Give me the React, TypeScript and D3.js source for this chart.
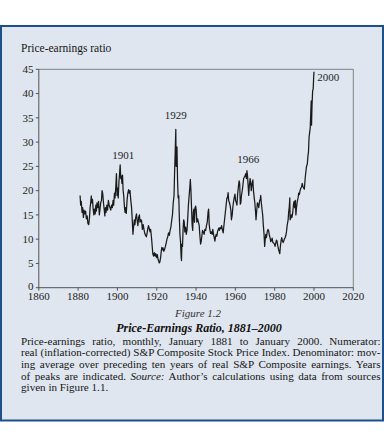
import React, { useLayoutEffect, useRef } from "react";
import * as d3 from "d3";

// ---- data ----
const years: number[] = [
  1881.0, 1881.3, 1881.6, 1882.0, 1882.3, 1882.7, 1883.0, 1883.4, 1883.8, 1884.2, 1884.6, 1885.0, 1885.4, 1885.8,
  1886.1, 1886.4, 1886.7, 1887.0, 1887.3, 1887.6, 1888.0, 1888.3, 1888.7, 1889.0, 1889.3, 1889.6, 1890.0, 1890.4,
  1890.8, 1891.1, 1891.5, 1891.9, 1892.2, 1892.5, 1892.9, 1893.3, 1893.6, 1893.9, 1894.2, 1894.6, 1895.0, 1895.4,
  1895.8, 1896.2, 1896.6, 1897.0, 1897.4, 1897.8, 1898.1, 1898.5, 1898.8, 1899.2, 1899.5, 1899.8, 1900.1, 1900.4,
  1900.8, 1901.1, 1901.4, 1901.7, 1902.0, 1902.3, 1902.6, 1902.9, 1903.2, 1903.6, 1903.9, 1904.2, 1904.5, 1904.9,
  1905.3, 1905.7, 1906.0, 1906.4, 1906.8, 1907.2, 1907.6, 1907.9, 1908.2, 1908.6, 1908.9, 1909.3, 1909.7, 1910.0,
  1910.4, 1910.8, 1911.2, 1911.5, 1911.9, 1912.3, 1912.7, 1913.1, 1913.5, 1913.9, 1914.3, 1914.7, 1915.0, 1915.4,
  1915.8, 1916.2, 1916.6, 1916.9, 1917.3, 1917.7, 1918.0, 1918.4, 1918.8, 1919.2, 1919.5, 1919.9, 1920.3, 1920.7,
  1921.0, 1921.3, 1921.6, 1922.0, 1922.3, 1922.6, 1922.9, 1923.2, 1923.6, 1924.0, 1924.4, 1924.8, 1925.2, 1925.6,
  1926.0, 1926.4, 1926.8, 1927.2, 1927.6, 1928.0, 1928.4, 1928.8, 1929.1, 1929.4, 1929.7, 1929.85, 1930.0, 1930.3,
  1930.6, 1930.9, 1931.2, 1931.5, 1931.8, 1932.1, 1932.4, 1932.6, 1932.8, 1933.1, 1933.4, 1933.7, 1934.0, 1934.3,
  1934.7, 1935.0, 1935.4, 1935.8, 1936.1, 1936.4, 1936.8, 1937.1, 1937.4, 1937.7, 1938.0, 1938.3, 1938.6, 1938.9,
  1939.2, 1939.5, 1939.8, 1940.1, 1940.4, 1940.8, 1941.2, 1941.6, 1941.9, 1942.3, 1942.6, 1942.9, 1943.3, 1943.7,
  1944.1, 1944.5, 1944.9, 1945.3, 1945.7, 1946.1, 1946.4, 1946.7, 1947.0, 1947.4, 1947.8, 1948.2, 1948.5, 1948.9,
  1949.3, 1949.6, 1949.9, 1950.3, 1950.6, 1950.9, 1951.3, 1951.6, 1951.9, 1952.3, 1952.7, 1953.0, 1953.4, 1953.8,
  1954.1, 1954.5, 1954.9, 1955.3, 1955.7, 1956.0, 1956.3, 1956.6, 1957.0, 1957.3, 1957.7, 1958.0, 1958.4, 1958.7,
  1959.0, 1959.4, 1959.8, 1960.1, 1960.5, 1960.8, 1961.2, 1961.6, 1961.9, 1962.2, 1962.5, 1962.8, 1963.1, 1963.5,
  1963.8, 1964.2, 1964.6, 1964.9, 1965.3, 1965.6, 1965.9, 1966.2, 1966.5, 1966.8, 1967.1, 1967.5, 1967.8, 1968.1,
  1968.5, 1968.9, 1969.2, 1969.6, 1969.9, 1970.3, 1970.5, 1970.9, 1971.2, 1971.6, 1971.9, 1972.3, 1972.7, 1972.9,
  1973.2, 1973.6, 1973.9, 1974.2, 1974.6, 1974.9, 1975.2, 1975.5, 1975.8, 1976.2, 1976.6, 1976.9, 1977.3, 1977.7,
  1978.0, 1978.4, 1978.7, 1979.1, 1979.5, 1979.9, 1980.2, 1980.6, 1980.9, 1981.2, 1981.6, 1981.9, 1982.3, 1982.6,
  1982.9, 1983.3, 1983.6, 1983.9, 1984.3, 1984.6, 1984.9, 1985.3, 1985.7, 1986.0, 1986.4, 1986.8, 1987.1, 1987.4,
  1987.7, 1987.85, 1988.1, 1988.5, 1988.8, 1989.2, 1989.6, 1989.9, 1990.2, 1990.5, 1990.8, 1991.1, 1991.5, 1991.9,
  1992.2, 1992.6, 1992.9, 1993.3, 1993.7, 1994.0, 1994.4, 1994.8, 1995.1, 1995.5, 1995.9, 1996.2, 1996.6, 1996.9,
  1997.2, 1997.5, 1997.8, 1998.1, 1998.4, 1998.6, 1998.75, 1999.0, 1999.3, 1999.6, 1999.85, 2000.0,
];

const peRatio: number[] = [
  19.0, 17.0, 17.8, 15.5, 16.5, 14.5, 16.0, 15.2, 15.8, 14.2, 14.8, 13.2, 13.0, 14.5,
  16.5, 17.5, 18.9, 17.5, 18.2, 16.5, 15.0, 16.2, 15.2, 17.0, 15.8, 17.5, 16.5, 17.8,
  15.0, 16.0, 17.5, 18.0, 20.0, 19.5, 17.5, 16.0, 14.8, 16.5, 15.5, 17.0, 16.0, 18.0,
  17.0, 16.5, 16.0, 17.0, 16.5, 18.0, 17.0, 19.5, 18.5, 21.0, 23.5, 19.0, 20.5, 18.5,
  22.0, 23.5, 25.3, 22.5, 23.0, 21.5, 23.2, 20.0, 19.0, 16.5, 15.5, 16.5, 15.3, 18.0,
  19.5, 20.2, 19.5, 20.0, 18.0, 16.5, 13.5, 11.0, 12.5, 14.0, 13.0, 14.5, 15.2, 14.0,
  12.8, 14.5, 15.0, 13.5, 14.0, 13.8, 12.0, 13.0, 12.0, 11.2, 10.8, 10.5, 11.0, 12.0,
  12.8, 12.2, 11.5, 12.0, 10.5, 8.5, 7.0, 6.5, 7.2, 6.5, 7.0, 6.2, 6.8, 5.8,
  5.5, 5.1, 5.3, 6.3, 7.5, 8.3, 7.8, 8.2, 7.5, 7.9, 8.5, 9.2, 10.0, 10.5,
  11.3, 10.8, 11.8, 12.5, 13.8, 15.0, 17.5, 19.0, 24.0, 28.0, 32.6, 25.0, 27.0, 29.0,
  22.0, 18.5, 19.0, 14.5, 11.0, 9.5, 6.5, 5.6, 9.0, 8.5, 12.0, 14.0, 13.5, 11.5,
  12.5, 11.0, 11.8, 14.5, 17.0, 18.5, 20.5, 22.3, 20.0, 16.5, 13.0, 11.8, 15.5, 16.2,
  13.5, 16.5, 16.8, 16.0, 13.5, 14.2, 13.5, 12.8, 11.0, 9.0, 9.5, 10.5, 11.8, 11.5,
  11.0, 12.0, 11.8, 12.8, 13.5, 15.5, 16.2, 13.0, 12.0, 11.2, 11.5, 11.0, 12.0, 11.0,
  10.2, 9.6, 10.5, 11.0, 10.6, 11.5, 12.0, 12.3, 11.8, 12.4, 12.2, 12.8, 11.9, 11.3,
  12.5, 14.0, 15.5, 17.0, 18.5, 18.5, 19.6, 18.0, 17.5, 17.0, 16.0, 14.0, 15.0, 16.5,
  17.5, 18.5, 19.3, 18.0, 17.5, 17.0, 19.5, 21.0, 22.0, 21.5, 17.2, 17.5, 19.0, 20.0,
  21.0, 22.5, 22.8, 23.0, 23.5, 22.5, 24.1, 23.0, 21.0, 19.0, 21.0, 22.5, 21.5, 20.0,
  21.5, 22.2, 20.0, 18.5, 17.5, 15.5, 14.0, 16.0, 17.5, 17.2, 16.5, 17.8, 18.3, 19.0,
  17.5, 16.0, 15.0, 13.0, 11.0, 8.5, 10.0, 11.0, 10.3, 11.5, 12.0, 11.8, 10.8, 10.2,
  9.5, 9.8, 10.2, 9.3, 9.2, 9.0, 8.5, 9.3, 9.8, 9.6, 8.6, 8.0, 7.4, 7.0,
  8.5, 9.8, 10.3, 9.7, 9.3, 9.6, 10.0, 10.3, 10.8, 11.5, 13.0, 13.8, 15.5, 16.5,
  18.5, 14.0, 14.2, 15.0, 14.5, 15.5, 17.3, 17.8, 16.5, 18.0, 15.0, 16.5, 17.8, 18.5,
  19.5, 19.2, 20.0, 20.5, 20.8, 21.5, 20.8, 20.5, 20.3, 22.5, 24.0, 25.0, 25.5, 27.0,
  28.0, 31.0, 32.0, 33.0, 36.5, 38.5, 33.5, 37.5, 40.5, 41.0, 43.5, 44.5,
];

const xTicks: number[] = [1860, 1880, 1900, 1920, 1940, 1960, 1980, 2000, 2020];
const yTicks: number[] = [0, 5, 10, 15, 20, 25, 30, 35, 40, 45];

const peakLabels: string[] = ["1901", "1929", "1966", "2000"];

const captionLines: string[][] = [
  ["Price-earnings ratio, monthly, January 1881 to January 2000. Numerator:"],
  ["real (inflation-corrected) S&P Composite Stock Price Index. Denominator: mov-"],
  ["ing average over preceding ten years of real S&P Composite earnings. Years"],
  ["of peaks are indicated. ", "Source:", " Author\u2019s calculations using data from sources"],
  ["given in Figure 1.1."],
];

const FONT = "'Liberation Serif', 'DejaVu Serif', serif";

export default function App() {
  const W = 384;
  const H = 447;
  const x = d3.scaleLinear().domain([1860, 2020]).range([38.8, 353.3]);
  const y = d3.scaleLinear().domain([0, 45]).range([287.7, 69.3]);

  const pts: [number, number][] = years.map((yr, i) => [yr, peRatio[i]]);
  const line = d3
    .line<[number, number]>()
    .x((d) => x(d[0]))
    .y((d) => y(d[1]));

  const captionRef = useRef<SVGGElement>(null);

  useLayoutEffect(() => {
    const g = captionRef.current;
    if (!g) return;
    const left = 21;
    const right = 380.5;
    const target = right - left;
    d3.select(g)
      .selectAll<SVGTextElement, unknown>("text.just")
      .each(function () {
        const t = this as SVGTextElement;
        t.setAttribute("word-spacing", "0");
        const natural = t.getComputedTextLength();
        const content = t.textContent || "";
        const spaces = (content.match(/ /g) || []).length;
        const extra = spaces > 0 ? (target - natural) / spaces : 0;
        t.setAttribute("word-spacing", String(Math.max(0, extra)));
      });
  }, []);

  // label anchor positions (year, value) for the peak annotations
  const peakLabelYear = [1903.0, 1929.7, 1966.5, 2001.6];
  const peakLabelValue = [26.5, 34.8, 25.6, 42.6];

  return (
    <svg
      width={W}
      height={H}
      style={{ position: "absolute", left: 0, top: 0, background: "#ffffff" }}
      fontFamily={FONT}
    >
      <rect x={1} y={26} width={382} height={394.5} fill="#dfe6ef" stroke="#1d5089" strokeWidth={2} />

      <text x={21} y={52} fontSize={11.5} fill="#161616">
        Price-earnings ratio
      </text>

      {/* frame top and right */}
      <line x1={x(1860)} x2={x(2020)} y1={y(45)} y2={y(45)} stroke="#6b6b6b" strokeWidth={0.8} />
      <line x1={x(2020)} x2={x(2020)} y1={y(45)} y2={y(0)} stroke="#6b6b6b" strokeWidth={0.8} />

      {/* y axis */}
      <line x1={x(1860)} x2={x(1860)} y1={y(45)} y2={y(0)} stroke="#444" strokeWidth={0.9} />
      {yTicks.map((t) => (
        <g key={"y" + t}>
          <line x1={x(1860) - 3} x2={x(1860)} y1={y(t)} y2={y(t)} stroke="#444" strokeWidth={0.9} />
          <text x={33.5} y={y(t) + (t === 0 ? 1.8 : 3.7)} fontSize={11} textAnchor="end" fill="#1e1e1e">
            {t}
          </text>
        </g>
      ))}

      {/* x axis */}
      <line x1={x(1860)} x2={x(2020)} y1={y(0)} y2={y(0)} stroke="#444" strokeWidth={0.9} />
      {xTicks.map((t) => (
        <g key={"x" + t}>
          <line x1={x(t)} x2={x(t)} y1={y(0)} y2={y(0) + 3} stroke="#444" strokeWidth={0.9} />
          <text x={x(t)} y={300.3} fontSize={11} textAnchor="middle" fill="#1e1e1e">
            {t}
          </text>
        </g>
      ))}

      <path d={line(pts) || ""} fill="none" stroke="#1a1a1a" strokeWidth={1.25} strokeLinejoin="round" />

      {peakLabels.map((lab, i) => (
        <text
          key={lab}
          x={x(peakLabelYear[i])}
          y={y(peakLabelValue[i])}
          fontSize={11}
          textAnchor={i === 3 ? "start" : "middle"}
          fill="#1e1e1e"
        >
          {lab}
        </text>
      ))}

      <text x={198} y={317} fontSize={11} fontStyle="italic" textAnchor="middle" fill="#333">
        Figure 1.2
      </text>
      <text x={199} y={331.5} fontSize={12} fontStyle="italic" fontWeight="bold" textAnchor="middle" fill="#111">
        Price-Earnings Ratio, 1881–2000
      </text>

      <g ref={captionRef}>
        {captionLines.map((parts, i) => (
          <text
            key={i}
            className={i < captionLines.length - 1 ? "just" : ""}
            x={21}
            y={344.5 + i * 11.7}
            fontSize={11.1}
            fill="#161616"
            style={{ whiteSpace: "pre" }}
          >
            {parts.map((p, j) =>
              p === "Source:" ? (
                <tspan key={j} fontStyle="italic">
                  {p}
                </tspan>
              ) : (
                <tspan key={j}>{p}</tspan>
              )
            )}
          </text>
        ))}
      </g>
    </svg>
  );
}
